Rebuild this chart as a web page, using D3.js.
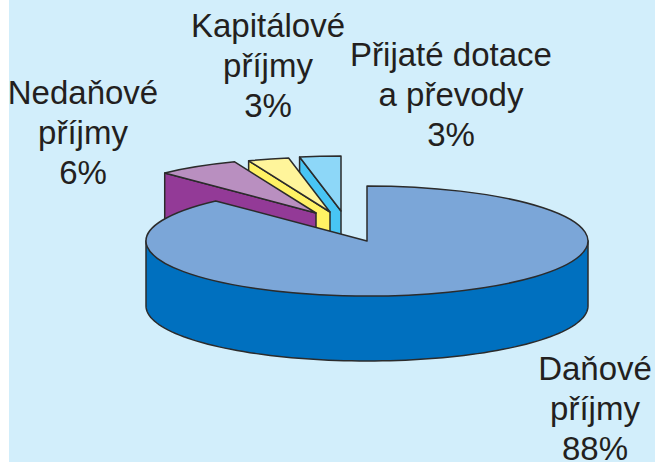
<!DOCTYPE html>
<html>
<head>
<meta charset="utf-8">
<script src="https://d3js.org/d3.v7.min.js"></script>
<style>
html, body { margin: 0; padding: 0; background: #fff; }
svg { display: block; }
text { font-family: "Liberation Sans", Arial, sans-serif; font-size: 33px; fill: #231f20; text-anchor: middle; }
</style>
</head>
<body>
<div id="chart"></div>
<script>
var categories = ['Daňové příjmy', 'Nedaňové příjmy', 'Kapitálové příjmy', 'Přijaté dotace a převody'];
var shares = [88, 6, 3, 3];
var labelLines = [['Daňové', 'příjmy'], ['Nedaňové', 'příjmy'], ['Kapitálové', 'příjmy'], ['Přijaté dotace', 'a převody']];

var topColors = ['#7ba6d8', '#b98fc0', '#fff59b', '#8dd7f8'];
var wallColors = ['#0070bf', '#933a97', '#fff264', '#48c5f4'];

// slice pull-out (main one stays in place) and label spots, by hand from the picture
var sliceShift = [[0, 0], [-51, -28], [-37, -29], [-26, -30]];
var labelSpot = [[595, 380], [83, 104], [268, 37], [451, 66]];

var width = 655, height = 462;
var cx = 367, cy = 241, rx = 221, ry = 55, depth = 65;
var lineGap = 40;

var svg = d3.select('#chart').append('svg')
    .attr('width', width)
    .attr('height', height);

svg.append('rect')
    .attr('x', 9)
    .attr('y', 0)
    .attr('width', width - 9)
    .attr('height', height)
    .attr('fill', '#d2eefb');

var slices = d3.pie().sort(null)(shares);
var arc = d3.arc().innerRadius(0).outerRadius(rx);
var line = d3.line();

function rimPoint(angle, shift)
{
    return [cx + shift[0] + Math.sin(angle) * rx, cy + shift[1] - Math.cos(angle) * ry];
}

function drawLines(points, fill)
{
    svg.append('path')
        .attr('d', line(points) + 'Z')
        .attr('fill', fill)
        .attr('stroke', '#2b2b2b')
        .attr('stroke-width', 1.5)
        .attr('stroke-linejoin', 'round');
}

function drawTop(i)
{
    var s = sliceShift[i];
    svg.append('path')
        .attr('d', arc(slices[i]))
        .attr('transform', 'translate(' + (cx + s[0]) + ',' + (cy + s[1]) + ') scale(1,' + (ry / rx) + ')')
        .attr('fill', topColors[i])
        .attr('stroke', '#2b2b2b')
        .attr('stroke-width', 1.5)
        .attr('stroke-linejoin', 'round')
        .attr('vector-effect', 'non-scaling-stroke');
}

// back slices: only the cut face at the start angle can be seen
[3, 2, 1].forEach(function(i) {
    var s = sliceShift[i];
    var apex = [cx + s[0], cy + s[1]];
    var rim = rimPoint(slices[i].startAngle, s);
    drawLines([apex, rim, [rim[0], rim[1] + depth], [apex[0], apex[1] + depth]], wallColors[i]);
    drawTop(i);
});

// front wall of the big slice, from the left extreme round to the right extreme
var front = d3.range(90, 271, 2).map(function(deg) {
    var p = rimPoint(deg * Math.PI / 180, sliceShift[0]);
    return [p[0], p[1] + depth];
});
front.unshift([cx + rx, cy]);
front.push([cx - rx, cy]);
drawLines(front, wallColors[0]);
drawTop(0);

labelLines.forEach(function(lines, i) {
    var rows = lines.concat(shares[i] + '%');
    svg.append('text')
        .attr('aria-label', categories[i])
        .selectAll('tspan')
        .data(rows)
        .enter()
        .append('tspan')
        .attr('x', labelSpot[i][0])
        .attr('y', function(d, k) { return labelSpot[i][1] + k * lineGap; })
        .text(function(d) { return d; });
});
</script>
</body>
</html>
